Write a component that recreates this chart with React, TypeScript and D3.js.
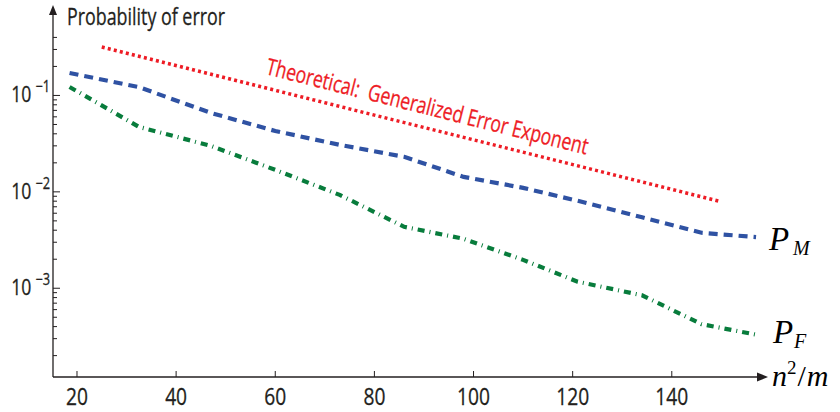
import React from "react";
import * as d3 from "d3";

// n^2/m sample points shared by both simulated curves
const xValues = [18.5, 32.5, 47, 60, 73, 86, 98, 110, 121, 134, 146, 157];
const missProb = [0.171, 0.122, 0.0659, 0.0428, 0.0307, 0.0231, 0.0143, 0.011, 0.00808, 0.00545, 0.00376, 0.00339];
const falseProb = [0.1225, 0.0472, 0.03, 0.0169, 0.0093, 0.00434, 0.00326, 0.00197, 0.00117, 0.000845, 0.000424, 0.00033];

// theoretical exponent: straight line on log axis
const theoryX = [25, 150];
const theoryY = [0.318, 0.0079];

const xTicks = [20, 40, 60, 80, 100, 120, 140];
const yMajor = [1e-1, 1e-2, 1e-3];
const yMajorExp = ["−1", "−2", "−3"];

const W = 840;
const H = 412;
const sans = "'Open Sans', 'Liberation Sans', sans-serif";
const serif = "'Liberation Serif', 'DejaVu Serif', serif";
const ink = "#231f20";
const narrow = 0.8; // fake a condensed face

const App = () => {
  const x = d3.scaleLinear().domain([15.16, 158.4]).range([53, 763]);
  const y = d3.scaleLog().domain([1.2e-4, 0.77]).range([377, 10]);

  const line = d3
    .line<[number, number]>()
    .x((d) => x(d[0]))
    .y((d) => y(d[1]));

  const minor = y.ticks().filter((t) => t <= 0.45 && !yMajor.some((m) => Math.abs(m - t) / m < 1e-6));

  const x0 = x.range()[0];
  const y0 = y.range()[0];

  return (
    <svg width={W} height={H} style={{ position: "absolute", left: 0, top: 0, background: "#fff" }}>
      {/* curves */}
      <path
        d={line(theoryX.map((v, i) => [v, theoryY[i]]))!}
        fill="none"
        stroke="#ee1c25"
        strokeWidth={3.5}
        strokeDasharray="3,3.2"
      />
      <path
        d={line(xValues.map((v, i) => [v, missProb[i]]))!}
        fill="none"
        stroke="#2f52a3"
        strokeWidth={4.2}
        strokeDasharray="9,6"
      />
      <path
        d={line(xValues.map((v, i) => [v, falseProb[i]]))!}
        fill="none"
        stroke="#087c3c"
        strokeWidth={4.2}
        strokeDasharray="7,5,1,5"
      />

      {/* axes */}
      <line x1={x0} x2={x0} y1={y0} y2={13} stroke={ink} strokeWidth={1.3} />
      <path d={`M${x0},5 L${x0 - 4},15 L${x0 + 4},15 Z`} fill={ink} />
      <line x1={x0} x2={758} y1={y0} y2={y0} stroke={ink} strokeWidth={1.3} />
      <path d={`M768,${y0} L757,${y0 - 4.5} L757,${y0 + 4.5} Z`} fill={ink} />

      {xTicks.map((t) => (
        <g key={t}>
          <line x1={x(t)} x2={x(t)} y1={y0} y2={y0 - 6} stroke={ink} strokeWidth={1} />
          <text
            transform={`translate(${x(t)},405) scale(${narrow},1)`}
            textAnchor="middle"
            fontFamily={sans}
            fontSize={24}
            fill={ink}
            stroke={ink}
            strokeWidth={0.3}
          >
            {t}
          </text>
        </g>
      ))}

      {minor.map((t) => (
        <line key={t} x1={x0} x2={x0 + 4} y1={y(t)} y2={y(t)} stroke={ink} strokeWidth={1} />
      ))}
      {yMajor.map((t, i) => (
        <g key={t}>
          <line x1={x0} x2={x0 + 7} y1={y(t)} y2={y(t)} stroke={ink} strokeWidth={1} />
          <text
            transform={`translate(50,${y(t) + 7}) scale(${narrow},1)`}
            textAnchor="end"
            fontFamily={sans}
            fontSize={22}
            fill={ink}
            stroke={ink}
            strokeWidth={0.3}
          >
            10
            <tspan dx={5} dy={-10} fontSize={16}>
              {yMajorExp[i]}
            </tspan>
          </text>
        </g>
      ))}

      <text
        x={67}
        y={25}
        fontFamily={sans}
        fontSize={23}
        fill={ink}
        stroke={ink}
        strokeWidth={0.3}
        textLength={158}
        lengthAdjust="spacingAndGlyphs"
      >
        Probability of error
      </text>

      <text
        transform="translate(265,74) rotate(14.1)"
        fontFamily={sans}
        fontSize={23}
        fill="#ee1c25"
        stroke="#ee1c25"
        strokeWidth={0.3}
        textLength={331}
        lengthAdjust="spacingAndGlyphs"
        style={{ whiteSpace: "pre" }}
      >
        {"Theoretical:  Generalized Error Exponent"}
      </text>

      {/* curve labels */}
      <text x={769} y={250} fontFamily={serif} fontStyle="italic" fontSize={33} fill="#000">
        P
      </text>
      <text x={793} y={255} fontFamily={serif} fontStyle="italic" fontSize={20} fill="#000">
        M
      </text>
      <text x={773} y={343} fontFamily={serif} fontStyle="italic" fontSize={33} fill="#000">
        P
      </text>
      <text x={794} y={348} fontFamily={serif} fontStyle="italic" fontSize={20} fill="#000">
        F
      </text>

      <text x={772} y={386} fontFamily={serif} fontStyle="italic" fontSize={30} fill="#000">
        n
        <tspan dy={-12} fontSize={19} fontStyle="normal">
          2
        </tspan>
        <tspan dx={1} dy={12} fontStyle="normal">
          /
        </tspan>
        <tspan dx={1}>m</tspan>
      </text>
    </svg>
  );
};

export default App;
